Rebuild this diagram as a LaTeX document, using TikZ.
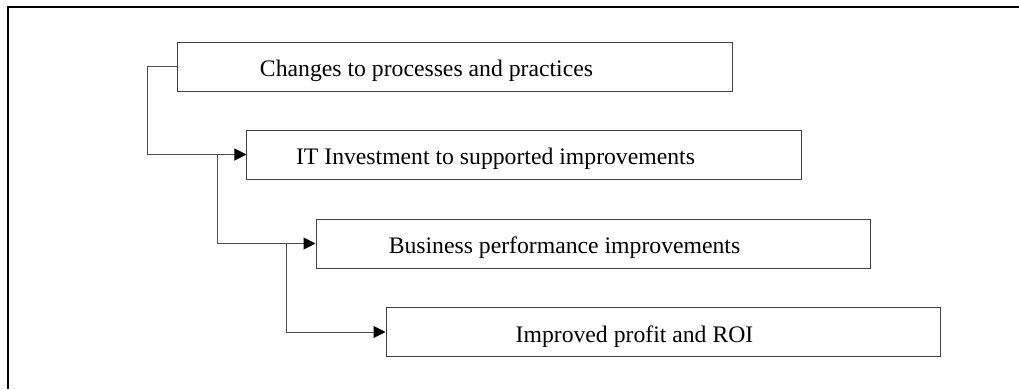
\documentclass[tikz,border=0pt]{standalone}
\usepackage{fontspec}
\setmainfont{Liberation Serif}
\usetikzlibrary{arrows.meta}
\tikzset{
  stepbox/.style={draw=black!75, line width=1bp, minimum width=554bp, minimum height=49bp, inner sep=0pt},
  steptext/.style={anchor=base, xshift=249bp, yshift=-10bp, inner sep=0pt, font=\fontsize{23.7bp}{28bp}\selectfont},
  link/.style={draw=black!70, line width=1bp, -{Triangle[length=12bp,width=12bp,color=black]}}
}
\begin{document}
\begin{tikzpicture}[x=1bp,y=-1bp]
\useasboundingbox (0,0) rectangle (1019,389);
% Frame
\draw[line width=2bp] (7.5,389) -- (7.5,7) -- (1019,7);
% Steps
\node[stepbox, label={[steptext]180:Changes to processes and practices}] (changes) at (455,66.5) {};
\node[stepbox, label={[steptext]180:IT Investment to supported improvements}] (itinv) at (524,154.5) {};
\node[stepbox, label={[steptext]180:Business performance improvements}] (perf) at (593,243.5) {};
\node[stepbox, label={[steptext]180:Improved profit and ROI}] (profit) at (663,332) {};
% Branch points
\coordinate (j1) at ([xshift=-29bp]itinv.west);
\coordinate (j2) at ([xshift=-29bp]perf.west);
% Connectors
\draw[link] (changes.west) -- ++(-30,0) |- (itinv.west);
\draw[link] (j1) |- (perf.west);
\draw[link] (j2) |- (profit.west);
\end{tikzpicture}
\end{document}
